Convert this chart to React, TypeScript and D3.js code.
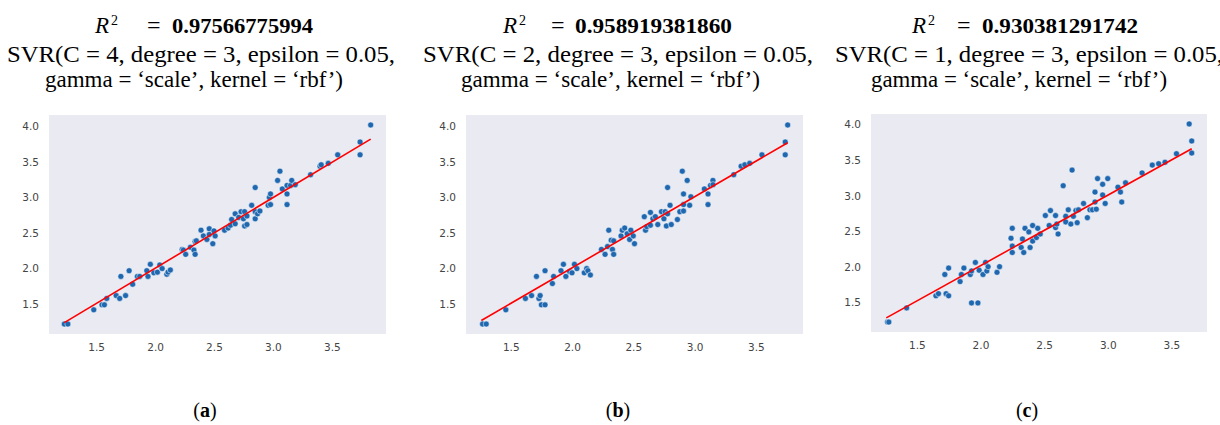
import React, { useRef, useEffect } from 'react';
import * as d3 from 'd3';

const cValues = [4, 2, 1];
const r2Labels = ['0.97566775994', '0.958919381860', '0.930381291742'];
const panelLetters = ['a', 'b', 'c'];
const xTicks = [1.5, 2.0, 2.5, 3.0, 3.5];
const yTicks = [1.5, 2.0, 2.5, 3.0, 3.5, 4.0];

// (a) C = 4
const xA = [1.23, 1.26, 1.48, 1.55, 1.57, 1.59, 1.67, 1.70, 1.71, 1.75, 1.78, 1.81, 1.85, 1.87, 1.93, 1.94, 1.96, 1.99, 2.02, 2.04,
  2.06, 2.10, 2.11, 2.13, 2.23, 2.24, 2.26, 2.30, 2.33, 2.34, 2.34, 2.35, 2.39, 2.41, 2.44, 2.46, 2.46, 2.49, 2.50, 2.51,
  2.59, 2.62, 2.64, 2.65, 2.68, 2.68, 2.71, 2.73, 2.75, 2.76, 2.76, 2.78, 2.78, 2.82, 2.85, 2.85, 2.85, 2.87, 2.89, 2.96,
  2.97, 2.98, 2.98, 3.04, 3.06, 3.08, 3.12, 3.12, 3.12, 3.15, 3.16, 3.19, 3.32, 3.40, 3.41, 3.47, 3.55, 3.74, 3.74, 3.83];
const yA = [1.22, 1.22, 1.42, 1.49, 1.49, 1.58, 1.62, 1.58, 1.89, 1.62, 1.97, 1.78, 1.89, 1.89, 1.97, 1.89, 2.06, 1.94, 1.95, 2.05,
  2.00, 1.92, 1.95, 1.98, 2.27, 2.26, 2.20, 2.30, 2.26, 2.20, 2.38, 2.39, 2.54, 2.46, 2.41, 2.56, 2.48, 2.35, 2.53, 2.46,
  2.54, 2.57, 2.61, 2.69, 2.77, 2.63, 2.72, 2.80, 2.70, 2.80, 2.60, 2.62, 2.74, 2.89, 3.14, 2.70, 2.80, 2.77, 2.81, 2.89,
  3.00, 3.05, 2.90, 3.24, 3.37, 3.12, 3.17, 3.05, 2.90, 3.17, 3.24, 3.18, 3.32, 3.44, 3.46, 3.48, 3.60, 3.78, 3.60, 4.02];
const fitXA = [1.23, 3.83];
const fitYA = [1.24, 3.82];

// (b) C = 2
const xB = [1.27, 1.30, 1.46, 1.62, 1.67, 1.71, 1.73, 1.74, 1.75, 1.78, 1.78, 1.84, 1.85, 1.91, 1.93, 1.95, 1.98, 2.00, 2.02, 2.04,
  2.10, 2.12, 2.13, 2.15, 2.24, 2.27, 2.29, 2.30, 2.32, 2.33, 2.34, 2.34, 2.40, 2.41, 2.43, 2.45, 2.47, 2.48, 2.50, 2.51,
  2.59, 2.60, 2.61, 2.64, 2.64, 2.66, 2.68, 2.70, 2.73, 2.75, 2.76, 2.77, 2.78, 2.78, 2.80, 2.81, 2.86, 2.88, 2.90, 2.91,
  2.91, 2.91, 2.94, 2.96, 2.97, 3.08, 3.11, 3.11, 3.13, 3.15, 3.15, 3.32, 3.38, 3.41, 3.45, 3.55, 3.74, 3.74, 3.76];
const yB = [1.22, 1.22, 1.42, 1.58, 1.62, 1.89, 1.58, 1.62, 1.49, 1.97, 1.49, 1.79, 1.89, 1.97, 2.06, 1.89, 1.96, 1.94, 2.06, 2.00,
  1.94, 2.00, 1.97, 1.91, 2.27, 2.20, 2.31, 2.54, 2.40, 2.27, 2.20, 2.39, 2.46, 2.54, 2.57, 2.49, 2.41, 2.54, 2.46, 2.35,
  2.73, 2.54, 2.59, 2.79, 2.61, 2.70, 2.73, 2.62, 2.80, 2.70, 2.80, 2.60, 3.14, 2.77, 2.89, 2.62, 2.69, 2.80, 3.37, 3.05,
  2.90, 2.81, 3.24, 2.89, 3.01, 3.12, 3.05, 2.90, 3.17, 3.24, 3.18, 3.32, 3.44, 3.46, 3.48, 3.60, 3.78, 3.60, 4.02];
const fitXB = [1.26, 3.76];
const fitYB = [1.27, 3.77];

// (c) C = 1
const xC = [1.27, 1.28, 1.42, 1.65, 1.67, 1.72, 1.73, 1.75, 1.75, 1.84, 1.85, 1.87, 1.92, 1.93, 1.93, 1.96, 1.98, 1.99, 2.02, 2.04,
  2.05, 2.06, 2.13, 2.15, 2.24, 2.25, 2.25, 2.25, 2.32, 2.33, 2.34, 2.35, 2.38, 2.39, 2.41, 2.41, 2.44, 2.45, 2.47, 2.51,
  2.54, 2.55, 2.59, 2.59, 2.60, 2.61, 2.65, 2.67, 2.67, 2.69, 2.71, 2.72, 2.73, 2.75, 2.76, 2.77, 2.81, 2.84, 2.86, 2.88,
  2.90, 2.90, 2.91, 2.92, 2.96, 2.96, 2.98, 3.00, 3.08, 3.10, 3.11, 3.14, 3.27, 3.35, 3.40, 3.45, 3.54, 3.64, 3.66, 3.66];
const yC = [1.22, 1.22, 1.42, 1.59, 1.62, 1.89, 1.62, 1.98, 1.59, 1.79, 1.89, 1.98, 1.89, 1.49, 1.94, 2.06, 1.49, 1.95, 1.89, 2.06,
  1.94, 2.00, 1.92, 2.00, 2.40, 2.54, 2.29, 2.20, 2.27, 2.39, 2.20, 2.54, 2.49, 2.27, 2.58, 2.36, 2.41, 2.54, 2.46, 2.72,
  2.58, 2.79, 2.72, 2.55, 2.60, 2.46, 3.14, 2.71, 2.63, 2.80, 2.60, 3.36, 2.71, 2.79, 2.62, 2.80, 2.89, 2.69, 2.80, 2.80,
  3.05, 2.91, 2.81, 3.24, 3.16, 3.01, 2.89, 3.24, 3.12, 3.05, 2.91, 3.18, 3.32, 3.43, 3.45, 3.47, 3.59, 4.01, 3.77, 3.60];
const fitXC = [1.26, 3.66];
const fitYC = [1.28, 3.66];

const series = [
  { xs: xA, ys: yA, fitX: fitXA, fitY: fitYA },
  { xs: xB, ys: yB, fitX: fitXB, fitY: fitYB },
  { xs: xC, ys: yC, fitX: fitXC, fitY: fitYC },
];

// plot frames and title slots, in px
const frames = [
  { left: 49, right: 386, top: 115, bottom: 334 },
  { left: 466, right: 803, top: 115, bottom: 334 },
  { left: 871, right: 1207, top: 114, bottom: 332 },
];
const titleSlots = [
  { rX: 95, eqX: 147, numX: 172, numW: 141, l2X: 7, l2W: 388, l3X: 45, l3W: 298, capX: 205 },
  { rX: 503, eqX: 551, numX: 575, numW: 157, l2X: 423, l2W: 390, l3X: 461, l3W: 299, capX: 618 },
  { rX: 912, eqX: 957, numX: 982, numW: 156, l2X: 835, l2W: 388, l3X: 871, l3W: 296, capX: 1027 },
];

const SERIF = 'Liberation Serif';
const DOT = '#1f68b0';

// matplotlib-like 5% margins
const padded = (vals: number[]) => {
  const [lo, hi] = d3.extent(vals) as [number, number];
  const m = (hi - lo) * 0.05;
  return [lo - m, hi + m];
};

const App = () => {
  const svgRef = useRef<SVGSVGElement>(null);

  useEffect(() => {
    const svg = d3.select(svgRef.current);
    svg.selectAll('*').remove();

    series.forEach((s, i) => {
      const f = frames[i];
      const t = titleSlots[i];

      const x = d3.scaleLinear().domain(padded([...s.xs, ...s.fitX])).range([f.left, f.right]);
      const y = d3.scaleLinear().domain(padded([...s.ys, ...s.fitY])).range([f.bottom, f.top]);

      const g = svg.append('g');

      g.append('rect')
        .attr('x', f.left)
        .attr('y', f.top)
        .attr('width', f.right - f.left)
        .attr('height', f.bottom - f.top)
        .attr('fill', '#eaeaf2');

      // axes (seaborn "dark": no ticks, no spines)
      const xAxis = d3.axisBottom(x).tickValues(xTicks).tickSize(0).tickPadding(10).tickFormat(d3.format('.1f'));
      const yAxis = d3.axisLeft(y).tickValues(yTicks).tickSize(0).tickPadding(10).tickFormat(d3.format('.1f'));

      const gx = g.append('g').attr('transform', `translate(0,${f.bottom})`).call(xAxis);
      const gy = g.append('g').attr('transform', `translate(${f.left},0)`).call(yAxis);
      [gx, gy].forEach(ax => {
        ax.select('.domain').remove();
        ax.selectAll('text')
          .style('fill', '#444')
          .style('font-family', '"DejaVu Sans", sans-serif')
          .style('font-size', '10.5px');
      });

      // points
      g.append('g')
        .selectAll('circle')
        .data(s.xs.map((v, k) => [v, s.ys[k]]))
        .enter()
        .append('circle')
        .attr('cx', d => x(d[0]))
        .attr('cy', d => y(d[1]))
        .attr('r', 3)
        .attr('fill', DOT)
        .attr('stroke', '#fff')
        .attr('stroke-width', 0.5);

      // fitted line
      const line = d3.line<number[]>().x(d => x(d[0])).y(d => y(d[1]));
      g.append('path')
        .datum(s.fitX.map((v, k) => [v, s.fitY[k]]))
        .attr('fill', 'none')
        .attr('stroke', 'red')
        .attr('stroke-width', 1.6)
        .attr('d', line);

      // titles
      const title = g.append('g').attr('font-family', SERIF).attr('fill', '#000');
      title.append('text')
        .attr('x', t.rX).attr('y', 33)
        .attr('font-style', 'italic').attr('font-size', 23)
        .text('R');
      title.append('text')
        .attr('x', t.rX + 16).attr('y', 25)
        .attr('font-size', 14)
        .text('2');
      title.append('text')
        .attr('x', t.eqX).attr('y', 33)
        .attr('font-size', 24)
        .text('=');
      title.append('text')
        .attr('x', t.numX).attr('y', 33)
        .attr('textLength', t.numW).attr('lengthAdjust', 'spacingAndGlyphs')
        .attr('font-weight', 'bold').attr('font-size', 22)
        .text(r2Labels[i]);
      title.append('text')
        .attr('x', t.l2X).attr('y', 62)
        .attr('textLength', t.l2W).attr('lengthAdjust', 'spacingAndGlyphs')
        .attr('font-size', 23)
        .text(`SVR(C = ${cValues[i]}, degree = 3, epsilon = 0.05,`);
      title.append('text')
        .attr('x', t.l3X).attr('y', 87)
        .attr('textLength', t.l3W).attr('lengthAdjust', 'spacingAndGlyphs')
        .attr('font-size', 23)
        .text('gamma = \u2018scale\u2019, kernel = \u2018rbf\u2019)');

      // caption
      const cap = g.append('text')
        .attr('x', t.capX).attr('y', 417)
        .attr('text-anchor', 'middle')
        .attr('font-family', SERIF).attr('font-size', 20);
      cap.append('tspan').text('(');
      cap.append('tspan').attr('font-weight', 'bold').text(panelLetters[i]);
      cap.append('tspan').text(')');
    });
  }, []);

  return (
    <svg
      ref={svgRef}
      width={1220}
      height={425}
      style={{ position: 'absolute', left: 0, top: 0, background: '#fff' }}
    />
  );
};

export default App;
